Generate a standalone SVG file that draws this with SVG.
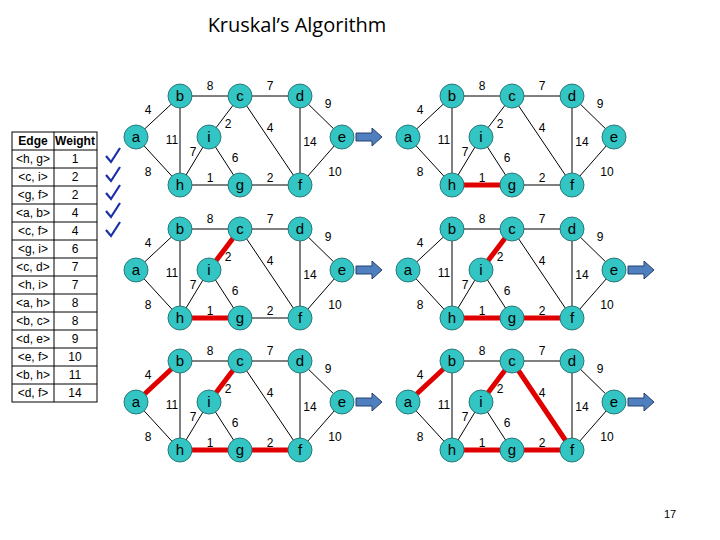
<svg xmlns="http://www.w3.org/2000/svg" xmlns:xlink="http://www.w3.org/1999/xlink" width="720" height="540" viewBox="0 0 720 540">
<style>
text{font-family:"Liberation Sans",Arial,sans-serif}
.e{stroke:#000;stroke-width:1;fill:none}
.r{stroke:#e00000;stroke-width:5;fill:none}
.n circle{fill:#33c4c4;stroke:#2a7a7a;stroke-width:1}
.n text{font-size:15px;text-anchor:middle;fill:#000}
.w{font-size:12px;text-anchor:middle}
.t{font-size:12px;text-anchor:middle}
.arr{fill:#4f7fbf;stroke:#27406a;stroke-width:1}
.ck{fill:none;stroke:#1a2fa8;stroke-width:2.2}
</style>
<defs>
<g id="edges" class="e">
<path d="M0 0L44 -41M0 0L44 48M44 -41H164M44 -41V48M104 -41L73 0M104 -41L164 48M164 -41L206 0M164 -41V48M206 0L164 48M73 0L44 48M73 0L104 48M44 48H164"/>
</g>
<g id="wts" class="w">
<text x="74" y="-47">8</text><text x="134" y="-47">7</text><text x="192" y="-29">9</text>
<text x="12" y="-23">4</text><text x="36" y="7">11</text><text x="92" y="-9">2</text>
<text x="134" y="-5">4</text><text x="174" y="9">14</text><text x="57" y="19">7</text>
<text x="99" y="25">6</text><text x="12" y="39">8</text><text x="74" y="45">1</text>
<text x="134" y="45">2</text><text x="199" y="39">10</text>
</g>
<path id="arrow" class="arr" d="M220 -4H236V-9L246 0L236 9V4H220Z"/>
<path id="chk" class="ck" d="M-6 0L-1 6L8 -8"/>
</defs>
<text x="297" y="32" style="font-family:'Open Sans','Liberation Sans',sans-serif;font-size:20px;text-anchor:middle">Kruskal’s Algorithm</text>
<g id="table">
<rect x="12" y="132" width="85" height="270" fill="#fff" stroke="#000"/>
<path d="M54 132V402M12 150H97M12 168H97M12 186H97M12 204H97M12 222H97M12 240H97M12 258H97M12 276H97M12 294H97M12 312H97M12 330H97M12 348H97M12 366H97M12 384H97" stroke="#000" fill="none"/>
<text x="33" y="145" style="font-size:12px;font-weight:bold;text-anchor:middle">Edge</text>
<text x="75" y="145" style="font-size:12px;font-weight:bold;text-anchor:middle">Weight</text>
<g class="t">
<text x="33" y="163">&lt;h, g&gt;</text><text x="75" y="163">1</text>
<text x="33" y="181">&lt;c, i&gt;</text><text x="75" y="181">2</text>
<text x="33" y="199">&lt;g, f&gt;</text><text x="75" y="199">2</text>
<text x="33" y="217">&lt;a, b&gt;</text><text x="75" y="217">4</text>
<text x="33" y="235">&lt;c, f&gt;</text><text x="75" y="235">4</text>
<text x="33" y="253">&lt;g, i&gt;</text><text x="75" y="253">6</text>
<text x="33" y="271">&lt;c, d&gt;</text><text x="75" y="271">7</text>
<text x="33" y="289">&lt;h, i&gt;</text><text x="75" y="289">7</text>
<text x="33" y="307">&lt;a, h&gt;</text><text x="75" y="307">8</text>
<text x="33" y="325">&lt;b, c&gt;</text><text x="75" y="325">8</text>
<text x="33" y="343">&lt;d, e&gt;</text><text x="75" y="343">9</text>
<text x="33" y="361">&lt;e, f&gt;</text><text x="75" y="361">10</text>
<text x="33" y="379">&lt;b, h&gt;</text><text x="75" y="379">11</text>
<text x="33" y="397">&lt;d, f&gt;</text><text x="75" y="397">14</text>
</g>
</g>
<g id="checks">
<use xlink:href="#chk" x="112" y="156"/><use xlink:href="#chk" x="112" y="175"/><use xlink:href="#chk" x="112" y="193"/><use xlink:href="#chk" x="112" y="211"/><use xlink:href="#chk" x="112" y="230"/>
</g>
<g id="connectors">
<g transform="translate(136,137)"><use xlink:href="#edges"/><use xlink:href="#wts"/><use xlink:href="#arrow"/></g>
<g transform="translate(408,137)"><use xlink:href="#edges"/><path class="r" d="M44 48H104"/><use xlink:href="#wts"/></g>
<g transform="translate(136,270)"><use xlink:href="#edges"/><path class="r" d="M44 48H104M104 -41L73 0"/><use xlink:href="#wts"/><use xlink:href="#arrow"/></g>
<g transform="translate(408,270)"><use xlink:href="#edges"/><path class="r" d="M44 48H164M104 -41L73 0"/><use xlink:href="#wts"/><use xlink:href="#arrow"/></g>
<g transform="translate(136,402)"><use xlink:href="#edges"/><path class="r" d="M44 48H164M104 -41L73 0M0 0L44 -41"/><use xlink:href="#wts"/><use xlink:href="#arrow"/></g>
<g transform="translate(408,402)"><use xlink:href="#edges"/><path class="r" d="M44 48H164M104 -41L73 0M0 0L44 -41M104 -41L164 48"/><use xlink:href="#wts"/><use xlink:href="#arrow"/></g>
</g>
<g id="p1" transform="translate(136,137)">
<g id="p1a" class="n"><circle cx="0" cy="0" r="12"/><text x="0" y="5">a</text></g>
<g id="p1b" class="n"><circle cx="44" cy="-41" r="12"/><text x="44" y="-36">b</text></g>
<g id="p1c" class="n"><circle cx="104" cy="-41" r="12"/><text x="104" y="-36">c</text></g>
<g id="p1d" class="n"><circle cx="164" cy="-41" r="12"/><text x="164" y="-36">d</text></g>
<g id="p1e" class="n"><circle cx="206" cy="0" r="12"/><text x="206" y="5">e</text></g>
<g id="p1i" class="n"><circle cx="73" cy="0" r="12"/><text x="73" y="5">i</text></g>
<g id="p1h" class="n"><circle cx="44" cy="48" r="12"/><text x="44" y="53">h</text></g>
<g id="p1g" class="n"><circle cx="104" cy="48" r="12"/><text x="104" y="53">g</text></g>
<g id="p1f" class="n"><circle cx="164" cy="48" r="12"/><text x="164" y="53">f</text></g>
</g>
<g id="p2" transform="translate(408,137)">
<g id="p2a" class="n"><circle cx="0" cy="0" r="12"/><text x="0" y="5">a</text></g>
<g id="p2b" class="n"><circle cx="44" cy="-41" r="12"/><text x="44" y="-36">b</text></g>
<g id="p2c" class="n"><circle cx="104" cy="-41" r="12"/><text x="104" y="-36">c</text></g>
<g id="p2d" class="n"><circle cx="164" cy="-41" r="12"/><text x="164" y="-36">d</text></g>
<g id="p2e" class="n"><circle cx="206" cy="0" r="12"/><text x="206" y="5">e</text></g>
<g id="p2i" class="n"><circle cx="73" cy="0" r="12"/><text x="73" y="5">i</text></g>
<g id="p2h" class="n"><circle cx="44" cy="48" r="12"/><text x="44" y="53">h</text></g>
<g id="p2g" class="n"><circle cx="104" cy="48" r="12"/><text x="104" y="53">g</text></g>
<g id="p2f" class="n"><circle cx="164" cy="48" r="12"/><text x="164" y="53">f</text></g>
</g>
<g id="p3" transform="translate(136,270)">
<g id="p3a" class="n"><circle cx="0" cy="0" r="12"/><text x="0" y="5">a</text></g>
<g id="p3b" class="n"><circle cx="44" cy="-41" r="12"/><text x="44" y="-36">b</text></g>
<g id="p3c" class="n"><circle cx="104" cy="-41" r="12"/><text x="104" y="-36">c</text></g>
<g id="p3d" class="n"><circle cx="164" cy="-41" r="12"/><text x="164" y="-36">d</text></g>
<g id="p3e" class="n"><circle cx="206" cy="0" r="12"/><text x="206" y="5">e</text></g>
<g id="p3i" class="n"><circle cx="73" cy="0" r="12"/><text x="73" y="5">i</text></g>
<g id="p3h" class="n"><circle cx="44" cy="48" r="12"/><text x="44" y="53">h</text></g>
<g id="p3g" class="n"><circle cx="104" cy="48" r="12"/><text x="104" y="53">g</text></g>
<g id="p3f" class="n"><circle cx="164" cy="48" r="12"/><text x="164" y="53">f</text></g>
</g>
<g id="p4" transform="translate(408,270)">
<g id="p4a" class="n"><circle cx="0" cy="0" r="12"/><text x="0" y="5">a</text></g>
<g id="p4b" class="n"><circle cx="44" cy="-41" r="12"/><text x="44" y="-36">b</text></g>
<g id="p4c" class="n"><circle cx="104" cy="-41" r="12"/><text x="104" y="-36">c</text></g>
<g id="p4d" class="n"><circle cx="164" cy="-41" r="12"/><text x="164" y="-36">d</text></g>
<g id="p4e" class="n"><circle cx="206" cy="0" r="12"/><text x="206" y="5">e</text></g>
<g id="p4i" class="n"><circle cx="73" cy="0" r="12"/><text x="73" y="5">i</text></g>
<g id="p4h" class="n"><circle cx="44" cy="48" r="12"/><text x="44" y="53">h</text></g>
<g id="p4g" class="n"><circle cx="104" cy="48" r="12"/><text x="104" y="53">g</text></g>
<g id="p4f" class="n"><circle cx="164" cy="48" r="12"/><text x="164" y="53">f</text></g>
</g>
<g id="p5" transform="translate(136,402)">
<g id="p5a" class="n"><circle cx="0" cy="0" r="12"/><text x="0" y="5">a</text></g>
<g id="p5b" class="n"><circle cx="44" cy="-41" r="12"/><text x="44" y="-36">b</text></g>
<g id="p5c" class="n"><circle cx="104" cy="-41" r="12"/><text x="104" y="-36">c</text></g>
<g id="p5d" class="n"><circle cx="164" cy="-41" r="12"/><text x="164" y="-36">d</text></g>
<g id="p5e" class="n"><circle cx="206" cy="0" r="12"/><text x="206" y="5">e</text></g>
<g id="p5i" class="n"><circle cx="73" cy="0" r="12"/><text x="73" y="5">i</text></g>
<g id="p5h" class="n"><circle cx="44" cy="48" r="12"/><text x="44" y="53">h</text></g>
<g id="p5g" class="n"><circle cx="104" cy="48" r="12"/><text x="104" y="53">g</text></g>
<g id="p5f" class="n"><circle cx="164" cy="48" r="12"/><text x="164" y="53">f</text></g>
</g>
<g id="p6" transform="translate(408,402)">
<g id="p6a" class="n"><circle cx="0" cy="0" r="12"/><text x="0" y="5">a</text></g>
<g id="p6b" class="n"><circle cx="44" cy="-41" r="12"/><text x="44" y="-36">b</text></g>
<g id="p6c" class="n"><circle cx="104" cy="-41" r="12"/><text x="104" y="-36">c</text></g>
<g id="p6d" class="n"><circle cx="164" cy="-41" r="12"/><text x="164" y="-36">d</text></g>
<g id="p6e" class="n"><circle cx="206" cy="0" r="12"/><text x="206" y="5">e</text></g>
<g id="p6i" class="n"><circle cx="73" cy="0" r="12"/><text x="73" y="5">i</text></g>
<g id="p6h" class="n"><circle cx="44" cy="48" r="12"/><text x="44" y="53">h</text></g>
<g id="p6g" class="n"><circle cx="104" cy="48" r="12"/><text x="104" y="53">g</text></g>
<g id="p6f" class="n"><circle cx="164" cy="48" r="12"/><text x="164" y="53">f</text></g>
</g>
<text x="670" y="518" style="font-size:11px;text-anchor:middle">17</text>
</svg>
